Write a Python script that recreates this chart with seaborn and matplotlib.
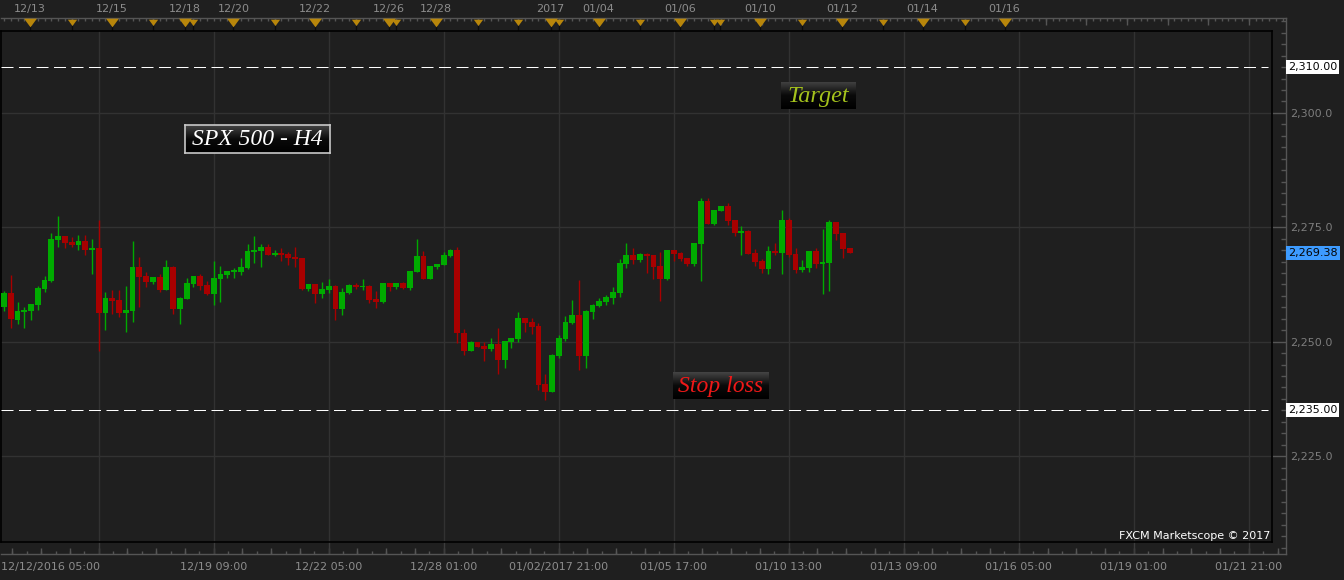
import numpy as np
import pandas as pd
import matplotlib
matplotlib.use("Agg")
import matplotlib.pyplot as plt
import matplotlib.transforms as mtransforms
from matplotlib.colors import LinearSegmentedColormap
from matplotlib.ticker import FixedLocator, FuncFormatter, MultipleLocator
import seaborn as sns

# ------------------------------------------------------------------ data
opens = [
    2257.65, 2260.64, 2254.81, 2256.49, 2256.77, 2258.09, 2261.58, 2263.27, 2272.29, 2273.10,
    2271.79, 2271.20, 2272.01, 2270.10, 2270.48, 2256.34, 2259.55, 2259.11, 2256.34, 2256.77,
    2266.32, 2264.36, 2263.11, 2264.14, 2261.36, 2266.32, 2257.21, 2259.40, 2262.67, 2264.36,
    2262.39, 2260.49, 2263.77, 2264.64, 2265.30, 2265.30, 2266.17, 2269.67, 2269.82, 2270.69,
    2269.01, 2269.23, 2269.17, 2268.58, 2268.29, 2261.52, 2262.61, 2260.49, 2261.30, 2262.17,
    2257.21, 2260.64, 2262.39, 2261.95, 2262.17, 2259.33, 2258.74, 2262.83, 2261.95, 2262.83,
    2261.74, 2265.23, 2268.73, 2263.70, 2266.32, 2266.76, 2268.73, 2270.04, 2251.84, 2248.03,
    2249.94, 2249.06, 2248.34, 2249.43, 2246.07, 2249.94, 2250.59, 2255.18, 2254.31, 2253.43,
    2240.76, 2239.07, 2246.88, 2250.59, 2254.09, 2255.83, 2246.94, 2256.49, 2257.80, 2258.68,
    2259.55, 2260.64, 2267.05, 2268.95, 2267.92, 2269.17, 2268.95, 2266.54, 2263.77, 2270.04,
    2269.38, 2268.29, 2267.05, 2271.42, 2280.75, 2275.79, 2278.63, 2279.65, 2276.60, 2273.82,
    2274.19, 2269.38, 2267.64, 2265.95, 2269.82, 2269.38, 2276.60, 2269.17, 2265.73, 2266.11,
    2269.82, 2267.05, 2267.20, 2276.16, 2273.75, 2270.48]
highs = [
    2261.08, 2264.58, 2258.68, 2257.52, 2258.24, 2262.17, 2264.36, 2273.75, 2277.47, 2273.10,
    2272.88, 2273.32, 2273.32, 2272.44, 2276.66, 2260.86, 2261.30, 2261.30, 2262.17, 2272.01,
    2268.51, 2265.23, 2264.14, 2264.79, 2267.85, 2266.54, 2259.77, 2263.92, 2264.36, 2264.79,
    2263.27, 2267.64, 2266.54, 2265.45, 2266.11, 2268.29, 2271.35, 2273.10, 2271.35, 2271.35,
    2270.04, 2270.48, 2269.60, 2270.69, 2268.29, 2262.61, 2262.61, 2263.05, 2263.70, 2262.39,
    2261.74, 2262.61, 2262.83, 2263.70, 2262.39, 2261.08, 2262.83, 2262.83, 2262.83, 2263.05,
    2265.45, 2272.44, 2269.82, 2266.54, 2266.98, 2269.67, 2270.32, 2270.63, 2252.71, 2250.15,
    2249.94, 2249.94, 2250.81, 2252.99, 2250.15, 2250.81, 2256.49, 2255.18, 2255.18, 2254.09,
    2242.94, 2247.31, 2251.46, 2255.62, 2259.11, 2263.48, 2256.93, 2258.24, 2259.55, 2260.21,
    2261.95, 2268.07, 2271.57, 2270.48, 2269.38, 2269.38, 2268.95, 2269.60, 2270.04, 2270.04,
    2269.60, 2268.29, 2271.57, 2281.40, 2281.40, 2278.78, 2279.65, 2280.31, 2276.60, 2275.28,
    2274.41, 2270.26, 2268.07, 2270.91, 2271.57, 2278.78, 2277.03, 2270.48, 2267.85, 2269.82,
    2270.48, 2274.63, 2276.60, 2276.16, 2273.75, 2270.48]
lows = [
    2256.77, 2253.06, 2253.93, 2253.06, 2254.81, 2256.99, 2260.93, 2263.05, 2270.76, 2270.54,
    2270.76, 2270.10, 2269.01, 2264.86, 2247.97, 2252.62, 2256.12, 2255.46, 2252.19, 2254.37,
    2257.65, 2261.89, 2262.67, 2260.93, 2261.36, 2256.12, 2253.93, 2259.40, 2262.02, 2261.36,
    2260.27, 2258.09, 2258.74, 2263.99, 2263.99, 2264.58, 2265.95, 2267.26, 2266.39, 2269.01,
    2268.79, 2267.70, 2266.83, 2266.39, 2261.30, 2261.15, 2258.52, 2259.62, 2260.71, 2254.81,
    2255.90, 2260.42, 2261.58, 2261.30, 2258.52, 2257.43, 2258.52, 2261.15, 2261.58, 2261.52,
    2261.30, 2265.23, 2263.70, 2263.70, 2265.89, 2266.76, 2268.51, 2249.78, 2247.16, 2248.03,
    2248.91, 2245.85, 2248.03, 2243.01, 2244.32, 2248.69, 2249.94, 2252.12, 2251.75, 2239.44,
    2237.26, 2239.07, 2246.44, 2250.15, 2253.87, 2243.82, 2244.32, 2254.96, 2257.58, 2258.02,
    2258.24, 2259.77, 2266.17, 2267.05, 2267.48, 2265.08, 2263.77, 2258.96, 2263.55, 2267.64,
    2267.70, 2266.61, 2266.61, 2263.33, 2275.79, 2275.57, 2278.63, 2275.57, 2273.16, 2268.95,
    2269.23, 2266.61, 2265.01, 2264.86, 2268.95, 2264.86, 2268.51, 2265.08, 2265.30, 2265.23,
    2266.17, 2260.49, 2261.15, 2272.29, 2268.36, 2269.38]
closes = [
    2260.64, 2254.90, 2256.71, 2256.93, 2258.24, 2261.74, 2263.48, 2272.44, 2273.10, 2271.63,
    2271.20, 2272.01, 2270.10, 2270.48, 2256.34, 2259.55, 2258.96, 2256.34, 2256.93, 2266.32,
    2264.20, 2263.11, 2264.14, 2261.36, 2266.32, 2257.21, 2259.55, 2262.83, 2264.36, 2262.24,
    2260.49, 2263.92, 2264.79, 2265.45, 2265.52, 2266.32, 2269.82, 2270.04, 2270.69, 2269.01,
    2269.23, 2269.01, 2268.36, 2268.14, 2261.52, 2262.61, 2260.49, 2261.52, 2262.17, 2257.21,
    2260.86, 2262.39, 2261.95, 2262.17, 2259.18, 2258.74, 2262.83, 2261.95, 2262.83, 2261.74,
    2265.45, 2268.73, 2263.70, 2266.54, 2266.98, 2268.95, 2270.04, 2251.84, 2248.03, 2249.94,
    2248.91, 2248.34, 2249.43, 2246.07, 2250.15, 2250.81, 2255.18, 2254.09, 2253.21, 2240.54,
    2239.07, 2247.09, 2250.81, 2254.31, 2255.83, 2246.94, 2256.71, 2258.02, 2258.89, 2259.77,
    2260.86, 2267.20, 2268.95, 2267.92, 2269.17, 2268.79, 2266.39, 2263.77, 2270.04, 2269.23,
    2268.14, 2267.05, 2271.57, 2280.75, 2275.79, 2278.78, 2279.65, 2276.44, 2273.82, 2274.19,
    2269.23, 2267.48, 2265.95, 2269.82, 2269.38, 2276.60, 2268.95, 2265.73, 2266.32, 2269.82,
    2267.05, 2267.42, 2276.16, 2273.60, 2270.32, 2269.38]

last_price = 2269.38
target_level = 2310.00
stop_level = 2235.00
price_ticks = [2225, 2250, 2275, 2300]

first_bar_label = "12/12/2016 05:00"
bottom_tick_bars = [31, 48, 65, 82, 99, 116, 133, 150, 167, 184]
bottom_tick_labels = ["12/19 09:00", "12/22 05:00", "12/28 01:00", "01/02/2017 21:00",
                      "01/05 17:00", "01/10 13:00", "01/13 09:00", "01/16 05:00",
                      "01/19 01:00", "01/21 21:00"]
top_tick_bars = [3.8, 15.9, 26.8, 33.9, 46, 56.9, 63.9, 80.8, 87.9, 99.9, 111.8, 123.9,
                 135.8, 147.9]
top_tick_labels = ["12/13", "12/15", "12/18", "12/20", "12/22", "12/26", "12/28", "2017",
                   "01/04", "01/06", "01/10", "01/12", "01/14", "01/16"]
minor_event_bars = [10, 22, 28, 40, 52, 58, 70, 76, 82, 94, 105, 105.9, 118, 130, 142]

df = pd.DataFrame({"open": opens, "high": highs, "low": lows, "close": closes})
df["bar"] = np.arange(len(df))
df["up"] = df["close"] >= df["open"]

# ------------------------------------------------------------------ style
BG = "#1f1f1f"
GRID = "#323232"
AXIS = "#555555"
TXT = "#8c8c8c"
GREEN = "#00aa00"
RED = "#a80000"

sns.set_theme(style="dark", rc={"axes.facecolor": BG, "figure.facecolor": BG,
                                "savefig.facecolor": BG, "axes.edgecolor": "black"})
plt.rcParams["font.family"] = ["DejaVu Sans"]

W, H = 1344, 580
fig = plt.figure(figsize=(W / 100, H / 100), dpi=100)
fig.patch.set_facecolor(BG)


def frame(l, t, r, b):
    return [l / W, 1 - b / H, (r - l) / W, (b - t) / H]


def px_to_bar(px):
    return (px - 4) / 6.765


def py_to_price(py):
    return 2275 - (py - 227.3) / 4.576


PT = 0.72  # points per pixel

# ------------------------------------------------------------------ outer axis frame
OT, OB = 18, 554
axo = fig.add_axes(frame(1, OT, 1286, OB), zorder=0)
axo.set_facecolor("none")
axo.set_xlim(px_to_bar(1), px_to_bar(1286))
axo.set_ylim(py_to_price(OB), py_to_price(OT))
axo.grid(False)
axo.spines["left"].set_visible(False)
for s in ["top", "right", "bottom"]:
    axo.spines[s].set_color(AXIS)
    axo.spines[s].set_linewidth(1.0)

# right price axis
axo.yaxis.tick_right()
axo.yaxis.set_major_locator(FixedLocator(price_ticks))
axo.yaxis.set_minor_locator(MultipleLocator(2.5))
axo.yaxis.set_major_formatter(FuncFormatter(lambda v, p: f"{v:,.1f}"))
axo.tick_params(axis="y", which="major", direction="in", length=14 * PT, width=1.0,
                color=AXIS, labelcolor="#7d7d7d", labelsize=8, pad=3, right=True, left=False)
axo.tick_params(axis="y", which="minor", direction="in", length=5 * PT, width=1.0,
                color=AXIS, right=True, left=False)

# bottom time axis
grid_bars = [bottom_tick_bars[0] - 17] + bottom_tick_bars
axo.xaxis.tick_bottom()
axo.set_xticks(grid_bars, labels=[""] + bottom_tick_labels)
axo.xaxis.set_minor_locator(FixedLocator(np.arange(grid_bars[0] - 17, 200, 17 / 8)))
axo.tick_params(axis="x", which="major", direction="in", length=13 * PT, width=1.0,
                color="#3c3c3c", labelcolor=TXT, labelsize=8, pad=6)
axo.tick_params(axis="x", which="minor", direction="in", length=3 * PT, width=1.0,
                color=AXIS)
sec_b = axo.secondary_xaxis("bottom")
for sp in sec_b.spines.values():
    sp.set_visible(False)
sec_b.set_xticks(np.arange(grid_bars[0] - 17, 200, 17 / 4), labels=[])
sec_b.tick_params(axis="x", direction="in", length=6 * PT, width=1.0, color=AXIS)

# top time axis
sec_t = axo.secondary_xaxis("top")
for sp in sec_t.spines.values():
    sp.set_visible(False)
sec_t.set_xticks(top_tick_bars, labels=top_tick_labels)
sec_t.xaxis.set_minor_locator(MultipleLocator(1))
sec_t.tick_params(axis="x", which="major", direction="in", length=7 * PT, width=1.0,
                  color=AXIS, labelcolor=TXT, labelsize=8, pad=3)
sec_t.tick_params(axis="x", which="minor", direction="in", length=3 * PT, width=1.0,
                  color=AXIS)
sec_t2 = axo.secondary_xaxis("top")
for sp in sec_t2.spines.values():
    sp.set_visible(False)
sec_t2.set_xticks(np.arange(4, 190, 6), labels=[])
sec_t2.tick_params(axis="x", direction="in", length=7 * PT, width=1.0, color=AXIS)

# event triangles on the top band
blend = mtransforms.blended_transform_factory(axo.transData, axo.transAxes)


def yfrac(py):
    return (OB - py) / (OB - OT)


tri = [(-1, 0.6), (1, 0.6), (0, -0.75)]
axo.vlines(top_tick_bars + minor_event_bars, yfrac(25), yfrac(31), colors="#0c0c0c",
           linewidth=1.0, transform=blend, clip_on=False, zorder=3)
axo.scatter(top_tick_bars, [yfrac(22)] * len(top_tick_bars), marker=tri, s=85,
            color="#b8860b", linewidths=0, transform=blend, clip_on=False, zorder=4)
axo.scatter(minor_event_bars, [yfrac(22)] * len(minor_event_bars), marker=tri, s=45,
            color="#b8860b", linewidths=0, transform=blend, clip_on=False, zorder=4)

# price tags on the right
yblend = mtransforms.blended_transform_factory(axo.transAxes, axo.transData)
for lvl, fc in [(target_level, "white"), (stop_level, "white"), (last_price, "#3d9bff")]:
    axo.annotate(f"{lvl:,.2f}", xy=(1, lvl), xycoords=yblend, xytext=(1.5, 0),
                 textcoords="offset points", ha="left", va="center", fontsize=8,
                 color="#050505", annotation_clip=False,
                 bbox=dict(boxstyle="square,pad=0.18", fc=fc, ec="none"))

# ------------------------------------------------------------------ main chart
ax = fig.add_axes(frame(1, 31, 1272, 542), zorder=2)
ax.set_facecolor(BG)
ax.set_xlim(px_to_bar(1), px_to_bar(1272))
ax.set_ylim(py_to_price(542), py_to_price(31))
ax.set_xticks(grid_bars)
ax.set_yticks(price_ticks)
ax.grid(True, color=GRID, linewidth=1.0)
ax.tick_params(length=0, labelbottom=False, labelleft=False)
for sp in ax.spines.values():
    sp.set_color("black")
    sp.set_linewidth(1.2)

colors = np.where(df["up"], GREEN, RED)
ax.vlines(df["bar"], df["low"], df["high"], colors=colors, linewidth=1.0, zorder=3)
body_low = df[["open", "close"]].min(axis=1)
body_h = (df["close"] - df["open"]).abs().clip(lower=0.3)
ax.bar(df["bar"], body_h, bottom=body_low, width=0.86, color=colors, linewidth=0,
       zorder=4)

for lvl in [target_level, stop_level]:
    ax.axhline(lvl, xmin=0, xmax=0.997, color="white", linewidth=PT, dashes=(12, 5.5),
               zorder=5)

# ------------------------------------------------------------------ text boxes
grad_cmap = LinearSegmentedColormap.from_list("g", ["#444444", "#0a0a0a", "#000000"])


def label_box(l, t, r, b, text, color, size, border=None):
    bax = fig.add_axes(frame(l, t, r, b), zorder=6)
    bax.imshow(np.linspace(0, 1, 64)[:, None], cmap=grad_cmap, aspect="auto",
               extent=(0, 1, 0, 1), origin="upper")
    bax.set_xticks([])
    bax.set_yticks([])
    bax.grid(False)
    for sp in bax.spines.values():
        if border:
            sp.set_color(border)
            sp.set_linewidth(1.2)
        else:
            sp.set_visible(False)
    bax.text(0.5, 0.48, text, ha="center", va="center", transform=bax.transAxes,
             family="Liberation Serif", style="italic", fontsize=size, color=color)


label_box(185, 125, 330, 153, "SPX 500 - H4", "white", 17, border="#c8c8c8")
label_box(781, 82, 856, 109, "Target", "#a4c21c", 17.5)
label_box(673, 372, 769, 399, "Stop loss", "#f01818", 17)

fig.text(1270 / W, 1 - 536 / H, "FXCM Marketscope © 2017", ha="right", va="center",
         color="white", fontsize=8)
fig.text(1 / W, 1 - 567 / H, first_bar_label, ha="left", va="center", color=TXT,
         fontsize=8)

fig.savefig("out.png", dpi=100, facecolor=BG)
